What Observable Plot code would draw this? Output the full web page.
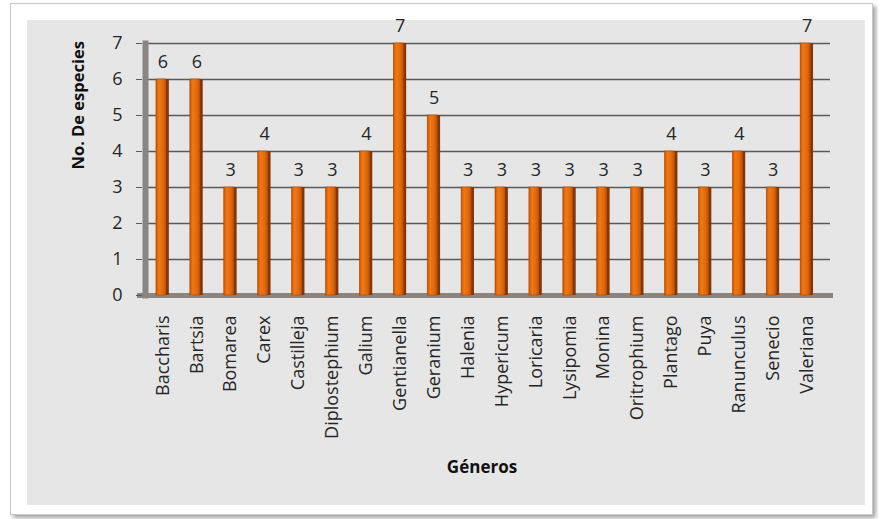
<!DOCTYPE html>
<html><head><meta charset="utf-8">
<script src="https://cdn.jsdelivr.net/npm/d3@7"></script>
<script src="https://cdn.jsdelivr.net/npm/@observablehq/plot@0.6"></script>
<style>
body{margin:0;background:#fff;}
#wrap{position:relative;width:879px;height:519px;overflow:hidden;}
#frame{position:absolute;left:10px;top:3px;width:861px;height:510px;border:1px solid #c8c8c8;box-shadow:3px 3px 4px rgba(0,0,0,0.35);background:#fff;}
#panel{position:absolute;left:27px;top:20px;width:838px;height:485px;background:#e6e6e6;}
#chart{position:absolute;left:0;top:0;}
</style></head><body>
<div id="wrap"><div id="frame"></div><div id="panel"></div><div id="chart"></div></div>
<script>
const generos = ["Baccharis","Bartsia","Bomarea","Carex","Castilleja","Diplostephium","Galium","Gentianella","Geranium","Halenia","Hypericum","Loricaria","Lysipomia","Monina","Oritrophium","Plantago","Puya","Ranunculus","Senecio","Valeriana"];
const especies = [6,6,3,4,3,3,4,7,5,3,3,3,3,3,3,4,3,4,3,7];
const yTicks = [0,1,2,3,4,5,6,7];
const yTitle = "No. De especies";
const xTitle = "Géneros";
const data = generos.map((g,i)=>({genero:g, n:especies[i]}));
const font = "'Open Sans', sans-serif";
const plot = Plot.plot({
  width:879, height:519, marginLeft:139, marginRight:49, marginTop:43, marginBottom:224,
  style:{background:"transparent", fontFamily:font, fontSize:"18px", color:"#262626"},
  x:{domain:generos, paddingInner:0.62, paddingOuter:0.5, round:false},
  y:{domain:[0,7]},
  marks:[
    Plot.ruleY(yTicks.slice(1), {stroke:"#5a5a5a", strokeWidth:1.5, insetLeft:9}),
    Plot.frame({anchor:"left", stroke:"#8a8580", strokeWidth:6, dx:6}),
    Plot.frame({anchor:"bottom", stroke:"#8a8580", strokeWidth:5}),
    Plot.barY(data, {x:"genero", y:"n", fill:"url(#barFace)", stroke:"#a84600", strokeWidth:0.6, insetRight:3}),
    Plot.barY(data, {x:"genero", y:"n", fill:"#8a3500", insetLeft:10}),
    Plot.text(data, {x:"genero", y:"n", text:"n", dy:-17, fontSize:18, fill:"#262626"}),
    Plot.axisY({ticks:yTicks, tickFormat:d => String(d), tickSize:6, tickPadding:14, fontSize:18, label:null, stroke:"#5a5a5a", dx:3}),
    Plot.axisX({tickSize:0, tickRotate:-90, tickPadding:20, fontSize:18, label:null}),
    Plot.text([yTitle], {frameAnchor:"left", rotate:-90, dx:-61, fontWeight:"bold", fontSize:16.5, fill:"#111"}),
    Plot.text([xTitle], {frameAnchor:"bottom", dy:177, dx:-3, fontWeight:"bold", fontSize:17, fill:"#111"})
  ]
});
const ns = "http://www.w3.org/2000/svg";
const defs = document.createElementNS(ns, "defs");
defs.innerHTML = '<linearGradient id="barFace" x1="0" x2="1" y1="0" y2="0">' +
  '<stop offset="0%" stop-color="#c85400"/><stop offset="30%" stop-color="#f07818"/>' +
  '<stop offset="70%" stop-color="#e46a08"/><stop offset="100%" stop-color="#c45200"/></linearGradient>';
plot.insertBefore(defs, plot.firstChild);
document.getElementById("chart").appendChild(plot);
</script>
</body></html>
